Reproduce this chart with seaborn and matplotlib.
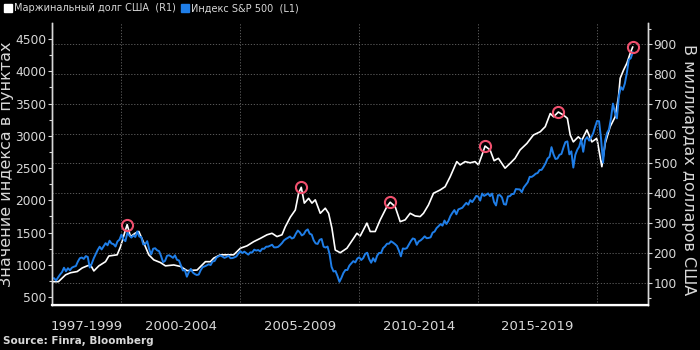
import numpy as np
import matplotlib
matplotlib.use('Agg')
import matplotlib.pyplot as plt
import matplotlib.transforms as mtransforms
from matplotlib.lines import Line2D
import seaborn as sns

# S&P 500 month-end closes, Jan 1997 - Jun 2021 (L1)
spx = [786, 791, 757, 801, 848, 885, 954, 899, 947, 915, 955, 970,
       980, 1049, 1102, 1112, 1091, 1134, 1121, 957, 1017, 1099, 1164, 1229,
       1280, 1238, 1286, 1335, 1302, 1373, 1329, 1320, 1283, 1363, 1389, 1469,
       1394, 1366, 1499, 1452, 1421, 1455, 1431, 1518, 1437, 1429, 1315, 1320,
       1366, 1240, 1160, 1249, 1256, 1224, 1211, 1134, 1041, 1060, 1139, 1148,
       1130, 1107, 1147, 1077, 1067, 990, 912, 916, 815, 886, 936, 880,
       856, 841, 848, 917, 964, 975, 990, 1008, 996, 1051, 1058, 1112,
       1131, 1145, 1126, 1107, 1121, 1141, 1102, 1104, 1115, 1130, 1174, 1212,
       1181, 1204, 1181, 1157, 1192, 1191, 1234, 1220, 1229, 1207, 1249, 1248,
       1280, 1281, 1295, 1311, 1270, 1270, 1277, 1304, 1336, 1378, 1401, 1418,
       1438, 1407, 1421, 1482, 1531, 1503, 1455, 1474, 1527, 1549, 1481, 1468,
       1379, 1331, 1323, 1386, 1400, 1280, 1267, 1283, 1166, 969, 896, 903,
       826, 735, 798, 873, 919, 919, 987, 1021, 1057, 1036, 1096, 1115,
       1074, 1104, 1169, 1187, 1089, 1031, 1102, 1049, 1141, 1183, 1181, 1258,
       1286, 1327, 1326, 1364, 1345, 1321, 1292, 1219, 1131, 1253, 1247, 1258,
       1312, 1366, 1408, 1398, 1310, 1362, 1379, 1407, 1441, 1412, 1416, 1426,
       1498, 1515, 1569, 1598, 1631, 1606, 1686, 1633, 1682, 1757, 1806, 1848,
       1783, 1859, 1872, 1884, 1924, 1960, 1931, 2003, 1972, 2018, 2068, 2059,
       1995, 2105, 2068, 2086, 2107, 2063, 2104, 1972, 1920, 2079, 2080, 2044,
       1940, 1932, 2060, 2065, 2097, 2099, 2174, 2171, 2168, 2126, 2199, 2239,
       2279, 2364, 2363, 2384, 2412, 2423, 2470, 2472, 2519, 2575, 2648, 2674,
       2824, 2714, 2641, 2648, 2705, 2718, 2816, 2902, 2914, 2712, 2760, 2507,
       2704, 2784, 2834, 2946, 2752, 2942, 2980, 2926, 2977, 3038, 3141, 3231,
       3226, 2954, 2585, 2912, 3044, 3100, 3271, 3500, 3363, 3270, 3622, 3756,
       3714, 3811, 3973, 4181, 4204, 4298]
spx_t = 1997 + (np.arange(len(spx)) + 1) / 12

# margin debt, bn USD (R1)
debt_t = [1997.09, 1997.35, 1997.65, 1997.86, 1998.14, 1998.35, 1998.56, 1998.70,
          1998.84, 1999.05, 1999.33, 1999.47, 1999.82, 1999.96, 2000.13, 2000.24,
          2000.38, 2000.59, 2000.73, 2000.94, 2001.15, 2001.36, 2001.64, 2001.85,
          2002.20, 2002.48, 2002.76, 2003.18, 2003.53, 2003.74, 2003.88, 2004.16,
          2004.44, 2004.72, 2005.00, 2005.28, 2005.56, 2005.84, 2006.12, 2006.33,
          2006.54, 2006.75, 2006.89, 2007.10, 2007.31, 2007.45, 2007.56, 2007.69,
          2007.87, 2008.01, 2008.15, 2008.36, 2008.57, 2008.71, 2008.85, 2008.99,
          2009.20, 2009.48, 2009.76, 2009.90, 2010.04, 2010.32, 2010.46, 2010.67,
          2010.88, 2011.16, 2011.30, 2011.51, 2011.72, 2011.93, 2012.14, 2012.35,
          2012.56, 2012.70, 2012.91, 2013.12, 2013.40, 2013.61, 2013.82, 2014.10,
          2014.24, 2014.45, 2014.66, 2014.87, 2015.01, 2015.16, 2015.29, 2015.50,
          2015.67, 2015.85, 2016.13, 2016.34, 2016.55, 2016.76, 2017.05, 2017.32,
          2017.61, 2017.82, 2018.03, 2018.17, 2018.37, 2018.58, 2018.75, 2018.87,
          2019.00, 2019.21, 2019.36, 2019.57, 2019.78, 2019.99, 2020.20, 2020.34,
          2020.55, 2020.76, 2020.90, 2020.97, 2021.11, 2021.25, 2021.39, 2021.50]
debt_v = [104, 104, 127, 134, 138, 150, 157, 160,
          140, 157, 171, 190, 194, 221, 267, 295,
          255, 267, 272, 234, 194, 177, 168, 157,
          160, 155, 141, 143, 171, 171, 183, 194,
          194, 194, 216, 224, 238, 249, 261, 266,
          255, 261, 288, 320, 344, 400, 420, 367,
          383, 367, 378, 333, 350, 333, 283, 210,
          201, 216, 249, 266, 257, 300, 272, 272,
          311, 355, 370, 355, 305, 311, 333, 324,
          322, 333, 361, 400, 411, 422, 455, 506,
          495, 506, 502, 506, 495, 528, 558, 545,
          509, 517, 484, 500, 517, 545, 567, 595,
          606, 623, 667, 656, 672, 662, 651, 595,
          572, 589, 578, 612, 572, 584, 489, 567,
          623, 656, 723, 785, 812, 835, 868, 890]

# peaks marked with red circles
peak_t = [2000.24, 2007.56, 2011.30, 2015.29, 2018.37, 2021.50]

period_labels = ['1997-1999', '2000-2004', '2005-2009', '2010-2014', '2015-2019']
period_edges = [2000, 2005, 2010, 2015, 2020]

fg = '#d8d8d8'
blue = '#1f7ee8'
red = '#f0506e'

sns.set_style('dark')
plt.rcParams['font.family'] = ['DejaVu Sans']

fig = plt.figure(figsize=(7, 3.5), dpi=100, facecolor='black')
ax = fig.add_axes([0.0743, 0.1286, 0.8514, 0.8057])
ax2 = ax.twinx()

sns.lineplot(x=debt_t, y=debt_v, ax=ax2, color='white', lw=1.2)
sns.lineplot(x=spx_t, y=spx, ax=ax, color=blue, lw=1.4)

# S&P on top of margin debt
ax.set_zorder(ax2.get_zorder() + 1)
ax.patch.set_visible(False)
ax2.patch.set_visible(True)
ax2.patch.set_facecolor('black')

peak_v = np.interp(peak_t, debt_t, debt_v)
ax.plot(peak_t, peak_v, ls='', marker='o', ms=8, mfc='none', mec=red,
        mew=1.5, transform=ax2.transData, zorder=5)

ax.set_xlim(1997.08, 2022.14)
ax.set_ylim(376, 4750)
ax2.set_ylim(26, 970)

ax.set_yticks(range(500, 5000, 500))
ax.set_yticks(range(500, 4750, 250), minor=True)
ax2.set_yticks(range(100, 1000, 100))
ax2.set_yticks(range(50, 970, 50), minor=True)

ax.set_xticks(period_edges)
ax.set_xticklabels([])
ax.set_xticks(range(1998, 2023), minor=True)

ax.tick_params(axis='x', which='major', length=22, width=0.6, color='#888888')
ax.tick_params(axis='x', which='minor', length=3, width=0.8, color=fg)
for a in (ax, ax2):
    a.tick_params(axis='y', which='major', length=3, width=0.8, color=fg,
                  labelcolor=fg, labelsize=8.8, pad=1)
    a.tick_params(axis='y', which='minor', length=2, width=0.8, color=fg)
    for side in ('left', 'right', 'bottom'):
        a.spines[side].set_color(fg)
        a.spines[side].set_linewidth(1.0)
    a.spines['top'].set_visible(False)
ax.spines['bottom'].set_linewidth(1.6)
ax.spines['bottom'].set_color('white')

ax2.grid(axis='y', color='#666666', ls=(0, (1.5, 2)), lw=0.6)
ax.grid(axis='x', color='#666666', ls=(0, (1.5, 2)), lw=0.6)
ax.grid(axis='y', visible=False)

# period labels between the separators
edges = [ax.get_xlim()[0]] + period_edges
trans = mtransforms.blended_transform_factory(ax.transData, ax.transAxes)
for lo, hi, lab in zip(edges[:-1], edges[1:], period_labels):
    ax.text((lo + hi) / 2, -0.075, lab, transform=trans, ha='center',
            va='center', color=fg, fontsize=9.5)

ax.set_xlabel('')
ax.set_ylabel('Значение индекса в пунктах', color=fg, fontsize=11.5)
ax.yaxis.set_label_coords(-0.063, 0.5)
ax2.set_ylabel('В миллиардах долларов США', color=fg, fontsize=11.5,
               rotation=270, va='bottom')
ax2.yaxis.set_label_coords(1.056, 0.48)

handles = [Line2D([], [], ls='', marker='s', color='white', ms=6),
           Line2D([], [], ls='', marker='s', color=blue, ms=6)]
fig.legend(handles, ['Маржинальный долг США  (R1)', 'Индекс S&P 500  (L1)'],
           loc='upper left', bbox_to_anchor=(0.0, 1.005), ncol=2,
           frameon=False, fontsize=7, labelcolor=fg, handlelength=0.6,
           handletextpad=0.3, columnspacing=0.7, borderaxespad=0.1)

fig.text(0.004, 0.018, 'Source: Finra, Bloomberg', color=fg, fontsize=7.5,
         weight='bold')

plt.savefig('out.png', dpi=100, facecolor='black')
